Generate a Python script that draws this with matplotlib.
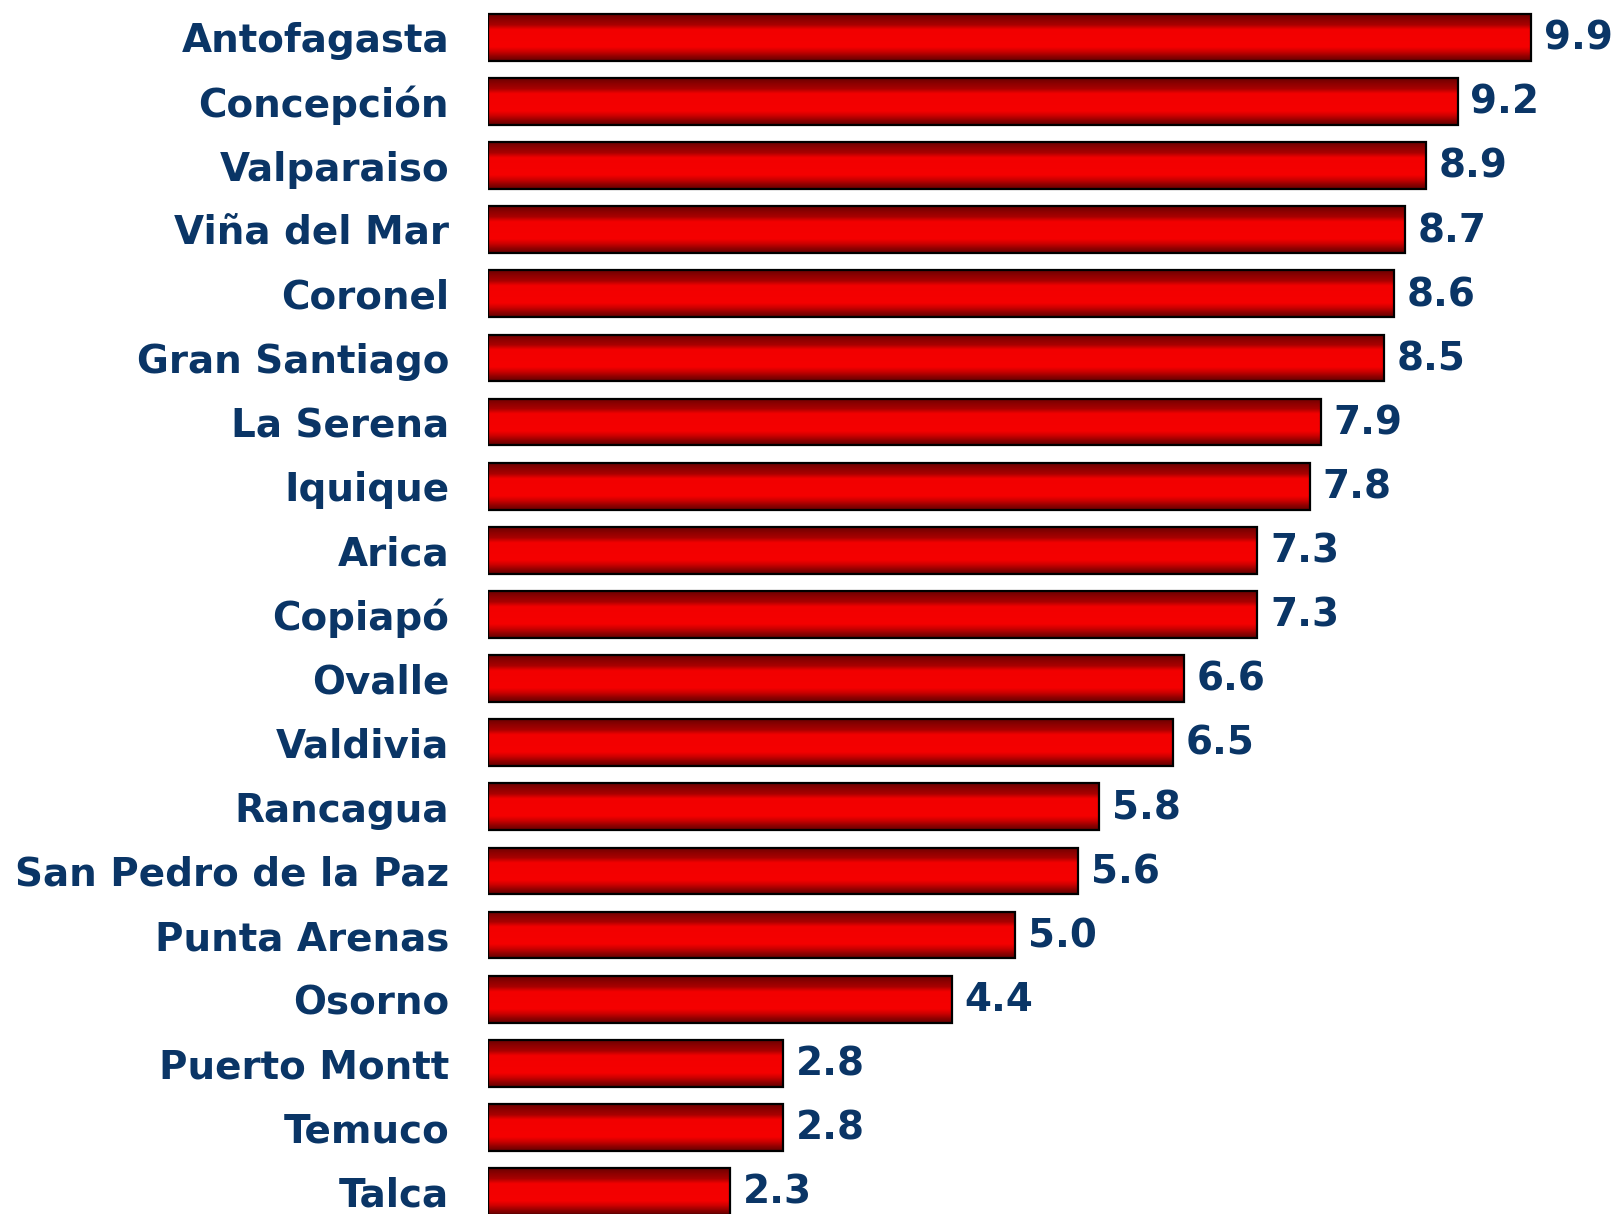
import numpy as np
import matplotlib
matplotlib.use("Agg")
import matplotlib.pyplot as plt
from matplotlib.colors import LinearSegmentedColormap

cities = ["Antofagasta", "Concepción", "Valparaiso", "Viña del Mar", "Coronel",
          "Gran Santiago", "La Serena", "Iquique", "Arica", "Copiapó", "Ovalle",
          "Valdivia", "Rancagua", "San Pedro de la Paz", "Punta Arenas", "Osorno",
          "Puerto Montt", "Temuco", "Talca"]
values = [9.9, 9.2, 8.9, 8.7, 8.6, 8.5, 7.9, 7.8, 7.3, 7.3, 6.6, 6.5, 5.8, 5.6,
          5.0, 4.4, 2.8, 2.8, 2.3]

navy = "#0a3566"
W, H = 1617, 1214
fig = plt.figure(figsize=(W / 100, H / 100), dpi=100)
ax = fig.add_axes([488 / W, 0, 1 - 488 / W, 1])

ypos = np.arange(len(cities))
bars = ax.barh(ypos, values, height=0.73, color="none", edgecolor="black",
               linewidth=1.6, zorder=3)

cmap = LinearSegmentedColormap.from_list(
    "barshade",
    [(0.0, "#6e0000"), (0.12, "#900000"), (0.22, "#a80000"), (0.33, "#f20000"),
     (0.7, "#f50000"), (0.8, "#d00000"), (0.9, "#960000"), (1.0, "#650000")])
grad = np.linspace(0, 1, 64).reshape(-1, 1)
for b in bars:
    x0, y0 = b.get_x(), b.get_y()
    w, h = b.get_width(), b.get_height()
    ax.imshow(grad, cmap=cmap, aspect="auto", origin="upper",
              extent=(x0, x0 + w, y0 + h, y0), zorder=2, interpolation="bilinear")

for y, v in zip(ypos, values):
    ax.text(v + 0.12, y + 0.02, f"{v:.1f}", va="center", ha="left", fontsize=28,
            fontweight="bold", color=navy, family="DejaVu Sans")

ax.set_xlim(0, (W - 488) / 105.4)
ax.set_ylim(18.351, -0.583)
ax.set_yticks(ypos)
ax.set_yticklabels(cities, fontsize=28, fontweight="bold", color=navy,
                   family="DejaVu Sans")
ax.tick_params(axis="y", length=0, pad=28)
ax.set_xticks([])
for s in ax.spines.values():
    s.set_visible(False)

fig.savefig("out.png", dpi=100, facecolor="white")
